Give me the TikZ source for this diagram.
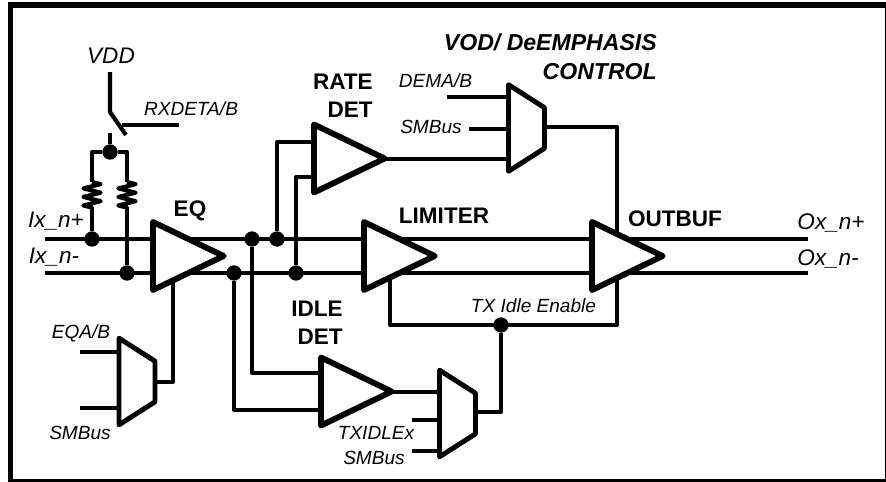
\documentclass[tikz,border=0pt]{standalone}
\usepackage{fontspec}
\setmainfont{Liberation Sans}
\usetikzlibrary{shapes.geometric,decorations.pathmorphing}
\tikzset{
	wire/.style={line width=3.1pt,line join=round},
	bus/.style={line width=3.3pt},
	amp/.style={draw,fill=white,line width=4.4pt,line join=round,outer sep=0pt,inner sep=0pt,isosceles triangle,isosceles triangle stretches,minimum width=51pt,minimum height=53pt,anchor=lower side},
	mux/.style={draw,fill=white,line width=3.7pt,line join=round,outer sep=0pt,inner sep=0pt,trapezium,trapezium angle=65,trapezium stretches=true,shape border rotate=270,minimum width=65pt,minimum height=27pt},
	dotnode/.style={circle,fill=black,inner sep=0pt,minimum size=11.5pt},
	sig/.style={inner sep=0pt,font=\fontsize{14.3}{16}\selectfont\itshape},
	port/.style={inner sep=0pt,font=\fontsize{16.9}{21}\selectfont\itshape},
	block/.style={inner sep=0pt,align=right,font=\fontsize{16.9}{21}\selectfont\bfseries},
	resistor/.style={decorate,decoration={zigzag,amplitude=6.5pt,segment length=6.4pt}}
}
\begin{document}
\begin{tikzpicture}[x=0.75pt,y=-0.75pt]
	\useasboundingbox (0,0) rectangle (886,482);
	% Frame
	\node[draw,line width=4.2pt,outer sep=0pt,inner sep=0pt,minimum width=658pt,minimum height=357.75pt] (frame) at (449.25,243.5) {};

	% Free ends of the wires
	\coordinate (inp) at (45,239);
	\coordinate (inn) at (45,273);
	\coordinate (outp) at (808,239);
	\coordinate (outn) at (808,273);
	\coordinate (vdd) at (110,72);
	\coordinate (swa) at (110,112);
	\coordinate (swb) at (126,135);
	\coordinate (swc) at (110,133);
	\coordinate (swctl) at (122,125);
	\coordinate (swend) at (179,125);

	% Junctions
	\node[dotnode] (jtop) at (110,152) {};
	\node[dotnode] (jrp) at (92,239) {};
	\node[dotnode] (jrn) at (127,273) {};
	\node[dotnode] (jidp) at (252,239) {};
	\node[dotnode] (jidn) at (234,273) {};
	\node[dotnode] (jratep) at (277,239) {};
	\node[dotnode] (jraten) at (296,273) {};
	\node[dotnode] (jen) at (501,325) {};

	% Switch and resistors
	\draw[wire] (vdd) -- (swa) -- (swb);
	\draw[wire] (swctl) -- (swend);
	\draw[wire] (swc) -- (jtop);
	\coordinate (rla) at (92,182);
	\coordinate (rlb) at (92,208);
	\coordinate (rra) at (127,182);
	\coordinate (rrb) at (127,208);
	\draw[wire] (jtop) -| (rla);
	\draw[wire] (jtop) -| (rra);
	\draw[wire,resistor] (rla) -- (rlb);
	\draw[wire,resistor] (rra) -- (rrb);
	\draw[wire] (rlb) -- (jrp);
	\draw[wire] (rrb) -- (jrn);

	% Differential wires
	\draw[bus] (inp) -- (outp);
	\draw[bus] (inn) -- (outn);

	% Amplifier inputs
	\coordinate (ratein) at (314,142);
	\coordinate (ratein2) at (314,177);
	\coordinate (idlein) at (321,373);
	\coordinate (idlein2) at (321,410);
	\draw[wire] (jratep) |- (ratein);
	\draw[wire] (jraten) |- (ratein2);
	\draw[wire] (jidp) |- (idlein);
	\draw[wire] (jidn) |- (idlein2);

	% Muxes inputs and outputs
	\coordinate (eqa) at (80,352);
	\coordinate (eqb) at (80,408);
	\coordinate (eqma) at (119,352);
	\coordinate (eqmb) at (119,408);
	\coordinate (eqmo) at (155,382);
	\coordinate (eqctl) at (173,280);
	\draw[wire] (eqa) -- (eqma);
	\draw[wire] (eqb) -- (eqmb);
	\draw[wire] (eqmo) -| (eqctl);
	\coordinate (dema) at (447,97);
	\coordinate (demma) at (508,97);
	\coordinate (smb) at (469,129);
	\coordinate (smbm) at (508,129);
	\coordinate (ratem) at (508,159);
	\coordinate (rateout) at (386,159);
	\coordinate (demo) at (545,127);
	\coordinate (bufctl) at (617,240);
	\draw[wire] (dema) -- (demma);
	\draw[wire] (smb) -- (smbm);
	\draw[wire] (rateout) -- (ratem);
	\draw[wire] (demo) -| (bufctl);
	\coordinate (lim) at (390,280);
	\coordinate (buf) at (617,280);
	\coordinate (enbot) at (390,325);
	\coordinate (enbotr) at (617,325);
	\draw[wire] (lim) -- (enbot) -- (enbotr) -- (buf);
	\coordinate (idleout) at (393,392);
	\coordinate (txa) at (440,392);
	\coordinate (txb) at (412,420);
	\coordinate (txb2) at (440,420);
	\coordinate (txc) at (412,451);
	\coordinate (txc2) at (440,451);
	\coordinate (txo) at (475,412);
	\draw[wire] (idleout) -- (txa);
	\draw[wire] (txb) -- (txb2);
	\draw[wire] (txc) -- (txc2);
	\draw[wire] (txo) -| (jen);

	% Amplifiers
	\node[amp] (eqamp) at (153,256) {};
	\node[amp] (rateamp) at (314,158.5) {};
	\node[amp] (limamp) at (364,256) {};
	\node[amp] (bufamp) at (592,256) {};
	\node[amp] (idleamp) at (321,391.5) {};

	% Muxes
	\node[mux] (eqmux) at (137,381.5) {\phantom{M}};
	\node[mux] (demux) at (526.5,128) {\phantom{M}};
	\node[mux] (txmux) at (457.5,413.5) {\phantom{M}};

	% Labels
	\node[port] (vddlab) at (111,56) {VDD};
	\node[sig] (rxlab) at (191,109) {RXDETA/B};
	\node[block] (eqlab) at (190,211) {EQ};
	\node[port] (inplab) at (56,221) {Ix\_n+};
	\node[port] (innlab) at (54,257) {Ix\_n-};
	\node[block,anchor=east] (ratelab) at (373,96) {RATE\\DET};
	\node[block] (limlab) at (444,216) {LIMITER};
	\node[block] (buflab) at (675,219) {OUTBUF};
	\node[block,anchor=east] (idlelab) at (343,323) {IDLE\\DET};
	\node[port] (outplab) at (831,223) {Ox\_n+};
	\node[port] (outnlab) at (828,259) {Ox\_n-};
	\node[sig] (demlab) at (435.5,81) {DEMA/B};
	\node[sig] (smblab) at (431,127) {SMBus};
	\node[sig] (enlab) at (533.5,306) {TX Idle Enable};
	\node[sig] (txidlab) at (376,433) {TXIDLEx};
	\node[sig] (smblab2) at (374,458) {SMBus};
	\node[sig] (eqalab) at (81,333) {EQA/B};
	\node[sig] (smblab3) at (80,433) {SMBus};
	\node[block,anchor=east,font=\fontsize{17.3}{21.5}\selectfont\bfseries\itshape] (vodlab) at (657,57) {VOD/ DeEMPHASIS\\CONTROL};
\end{tikzpicture}
\end{document}
